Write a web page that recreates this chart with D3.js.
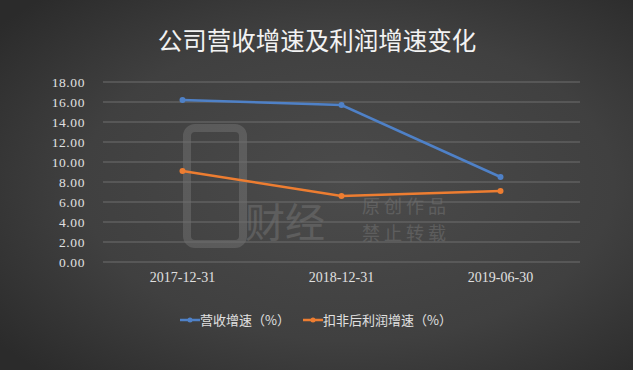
<!DOCTYPE html>
<html>
<head>
<meta charset="utf-8">
<script src="https://cdn.jsdelivr.net/npm/d3@7"></script>
<style>
  body { margin: 0; background: #333; }
  svg { display: block; }
</style>
</head>
<body>
<div id="chart"></div>
<script>
// data
var categories = ['2017-12-31', '2018-12-31', '2019-06-30'];
var revenueGrowth = [16.2, 15.7, 8.5];
var profitGrowth = [9.1, 6.6, 7.1];
var yTicks = [0, 2, 4, 6, 8, 10, 12, 14, 16, 18];
var seriesNames = ['营收增速（%）', '扣非后利润增速（%）'];

var W = 633, H = 370;
var margin = { top: 82, right: 53, bottom: 108, left: 103 },
  width = W - margin.left - margin.right,
  height = H - margin.top - margin.bottom;

var svg = d3.select('#chart').append('svg')
  .attr('width', W).attr('height', H);

// background with soft radial light
var defs = svg.append('defs');
var grad = defs.append('radialGradient').attr('id', 'bg')
  .attr('cx', '55%').attr('cy', '50%').attr('r', '70%');
grad.append('stop').attr('offset', '0%').attr('stop-color', '#4b4b4b');
grad.append('stop').attr('offset', '60%').attr('stop-color', '#404040');
grad.append('stop').attr('offset', '100%').attr('stop-color', '#2b2b2b');
svg.append('rect').attr('width', W).attr('height', H).attr('fill', 'url(#bg)');

// title
svg.append('text')
  .attr('x', 317).attr('y', 50)
  .attr('text-anchor', 'middle')
  .style('font-family', '"Noto Sans CJK SC", sans-serif')
  .style('font-size', '24.5px')
  .style('fill', '#f2f2f2')
  .text('公司营收增速及利润增速变化');

var g = svg.append('g')
  .attr('transform', 'translate(' + margin.left + ',' + margin.top + ')');

var x = d3.scaleBand().domain(categories).range([0, width]);
var y = d3.scaleLinear().domain([0, 18]).range([height, 0]);

// watermark (faint)
var wm = g.append('g').style('opacity', 0.12);
wm.append('rect').attr('x', 84).attr('y', 46).attr('width', 56).attr('height', 116)
  .attr('rx', 8).attr('fill', 'none').attr('stroke', '#fff').attr('stroke-width', 8);
wm.append('text').attr('x', 142).attr('y', 155)
  .style('font-family', '"Noto Sans CJK SC", sans-serif').style('font-size', '40px')
  .style('fill', '#fff').text('财经');
wm.append('text').attr('x', 259).attr('y', 131)
  .style('font-family', '"Noto Sans CJK SC", sans-serif').style('font-size', '18px')
  .style('letter-spacing', '4px')
  .style('fill', '#fff').text('原创作品');
wm.append('text').attr('x', 259).attr('y', 158)
  .style('font-family', '"Noto Sans CJK SC", sans-serif').style('font-size', '18px')
  .style('letter-spacing', '4px')
  .style('fill', '#fff').text('禁止转载');

// gridlines
g.selectAll('.grid').data(yTicks).enter().append('line')
  .attr('x1', 0).attr('x2', width)
  .attr('y1', function (d) { return y(d); })
  .attr('y2', function (d) { return y(d); })
  .attr('stroke', '#6e6e6e').attr('stroke-width', 1);

// y axis labels
var yAxis = g.append('g')
  .attr('transform', 'translate(-15,0)')
  .call(d3.axisLeft(y).tickValues(yTicks).tickSize(0).tickFormat(d3.format('.2f')));
yAxis.select('.domain').remove();
yAxis.selectAll('text')
  .style('font-family', '"Liberation Serif", serif')
  .style('font-size', '13.5px')
  .style('letter-spacing', '0.6px')
  .style('fill', '#e0e0e0');

// x axis labels
var xAxis = g.append('g')
  .attr('transform', 'translate(0,' + height + ')')
  .call(d3.axisBottom(x).tickSize(0).tickPadding(10));
xAxis.select('.domain').remove();
xAxis.selectAll('text')
  .style('font-family', '"Liberation Serif", serif')
  .style('font-size', '14px')
  .style('fill', '#e0e0e0');

// lines
var colors = ['#4f81c7', '#ed7d31'];
var series = [revenueGrowth, profitGrowth];
var line = d3.line()
  .x(function (d, i) { return x(categories[i]) + x.bandwidth() / 2; })
  .y(function (d) { return y(d); });

series.forEach(function (s, k) {
  g.append('path').datum(s)
    .attr('d', line)
    .attr('fill', 'none')
    .attr('stroke', colors[k])
    .attr('stroke-width', 2.5);
  g.selectAll('.pt' + k).data(s).enter().append('circle')
    .attr('cx', function (d, i) { return x(categories[i]) + x.bandwidth() / 2; })
    .attr('cy', function (d) { return y(d); })
    .attr('r', 3)
    .attr('fill', colors[k]);
});

// legend
var legendX = [180, 303];
var legend = svg.append('g');
seriesNames.forEach(function (name, k) {
  var lg = legend.append('g').attr('transform', 'translate(' + legendX[k] + ',320)');
  lg.append('line').attr('x1', 0).attr('x2', 20).attr('y1', 0).attr('y2', 0)
    .attr('stroke', colors[k]).attr('stroke-width', 2.5);
  lg.append('circle').attr('cx', 10).attr('cy', 0).attr('r', 2.5).attr('fill', colors[k]);
  lg.append('text').attr('x', 20).attr('y', 5)
    .style('font-family', '"Noto Sans CJK SC", sans-serif')
    .style('font-size', '13px')
    .style('fill', '#e0e0e0')
    .text(name);
});
</script>
</body>
</html>
